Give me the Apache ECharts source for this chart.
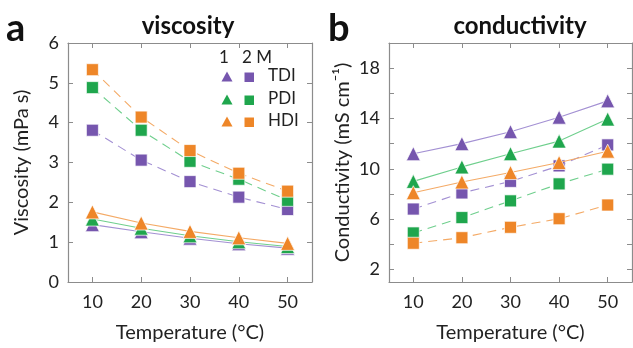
<!DOCTYPE html>
<html>
<head>
<meta charset="utf-8">
<script src="https://cdn.jsdelivr.net/npm/echarts@6/dist/echarts.min.js"></script>
<style>
  html, body { margin: 0; padding: 0; background: #fff; }
  #chart { width: 633px; height: 348px; }
</style>
</head>
<body>
<div id="chart"></div>
<script>
const temps = [10, 20, 30, 40, 50]
const xTicks = [10, 20, 30, 40, 50]

// viscosity (mPa s), 1 M = triangles, 2 M = squares
const viscTDI1 = [1.44, 1.26, 1.10, 0.96, 0.85]
const viscPDI1 = [1.58, 1.35, 1.16, 1.01, 0.89]
const viscHDI1 = [1.76, 1.48, 1.27, 1.11, 0.97]
const viscTDI2 = [3.81, 3.06, 2.52, 2.13, 1.82]
const viscPDI2 = [4.88, 3.81, 3.03, 2.58, 2.05]
const viscHDI2 = [5.33, 4.14, 3.30, 2.73, 2.28]

// conductivity (mS cm-1)
const condTDI1 = [11.2, 12.0, 12.95, 14.1, 15.4]
const condPDI1 = [9.0, 10.15, 11.2, 12.2, 13.95]
const condHDI1 = [8.1, 8.95, 9.7, 10.5, 11.4]
const condTDI2 = [6.8, 8.08, 9.0, 10.23, 11.9]
const condPDI2 = [4.9, 6.12, 7.45, 8.8, 9.97]
const condHDI2 = [4.08, 4.52, 5.35, 6.03, 7.12]

const viscTicks = [0, 1, 2, 3, 4, 5, 6]
const condTicks = [2, 4, 6, 8, 10, 12, 14, 16, 18]
const condLabels = [2, 6, 10, 14, 18]

const names = ['TDI', 'PDI', 'HDI']
const colors = ['#7656ae', '#1fa64d', '#ee8628']
const lineColors = ['#a390d3', '#6fcf8d', '#f4aa66']

const font = 'Lato, "Open Sans", sans-serif'
const frame = '#8c8c8c'

const pairs = (ys) => temps.map((t, i) => [t, ys[i]])

function mk(name, ys, k, m, g) {
  const tri = m === 1
  return {
    name: name + ' ' + m + ' M',
    type: 'line',
    xAxisIndex: g * 2,
    yAxisIndex: g * 2,
    data: pairs(ys),
    symbol: tri ? 'triangle' : 'rect',
    symbolSize: tri ? 14 : 12,
    z: tri ? 4 : 3,
    itemStyle: { color: colors[k], borderColor: 'rgba(255,255,255,0.7)', borderWidth: 1 },
    lineStyle: { color: lineColors[k], width: 1.1, type: tri ? 'solid' : [9, 6] },
    emphasis: { disabled: true },
    animation: false
  }
}

function xAxes(g) {
  const base = {
    type: 'value', gridIndex: g, min: 5, max: 55,
    axisLine: { show: true, onZero: false, lineStyle: { color: frame, width: 1.2 } },
    axisTick: { show: true, inside: true, length: 5, customValues: xTicks, lineStyle: { color: frame } },
    splitLine: { show: false }
  }
  return [
    Object.assign({}, base, {
      position: 'bottom',
      name: 'Temperature (°C)', nameLocation: 'middle', nameGap: 41,
      nameTextStyle: { fontFamily: font, fontSize: 20, color: '#222' },
      axisLabel: { customValues: xTicks, fontFamily: font, fontSize: 18, color: '#222', margin: 11 }
    }),
    Object.assign({}, base, { position: 'top', axisLabel: { show: false } })
  ]
}

function yAxes(g, cfg) {
  const base = {
    type: 'value', gridIndex: g, min: cfg.min, max: cfg.max,
    axisLine: { show: true, onZero: false, lineStyle: { color: frame, width: 1.2 } },
    axisTick: { show: true, inside: true, length: 5, customValues: cfg.ticks, lineStyle: { color: frame } },
    splitLine: { show: false }
  }
  return [
    Object.assign({}, base, {
      position: 'left',
      name: cfg.name, nameLocation: 'middle', nameGap: cfg.gap,
      nameTextStyle: { fontFamily: font, fontSize: 20, color: '#222' },
      axisLabel: { customValues: cfg.labels, fontFamily: font, fontSize: 18, color: '#222', margin: 9 }
    }),
    Object.assign({}, base, { position: 'right', axisLabel: { show: false } })
  ]
}

const viscSets = [[viscTDI1, viscPDI1, viscHDI1], [viscTDI2, viscPDI2, viscHDI2]]
const condSets = [[condTDI1, condPDI1, condHDI1], [condTDI2, condPDI2, condHDI2]]

const series = []
;[1, 0].forEach(mi => {
  // squares (2 M) first, then triangles (1 M) on top
  const m = mi + 1
  names.forEach((n, k) => series.push(mk(n, viscSets[mi][k], k, m, 0)))
  names.forEach((n, k) => series.push(mk(n, condSets[mi][k], k, m, 1)))
})

// legend drawn as graphic, three rows
const legendRows = [77, 100, 122]
const legend = [
  { type: 'text', left: 219, top: 49, style: { text: '1', font: '17px ' + font, fill: '#222' } },
  { type: 'text', left: 242, top: 49, style: { text: '2 M', font: '17px ' + font, fill: '#222' } }
]
names.forEach((n, k) => {
  const y = legendRows[k]
  legend.push({ type: 'polygon', shape: { points: [[227, y - 5.5], [232.5, y + 4.5], [221.5, y + 4.5]] }, style: { fill: colors[k] } })
  legend.push({ type: 'rect', shape: { x: 244.5, y: y - 4.5, width: 9.5, height: 9.5 }, style: { fill: colors[k] } })
  legend.push({ type: 'text', left: 268, top: y - 10, style: { text: n, font: '17px ' + font, fill: '#222' } })
})

const option = {
  animation: false,
  textStyle: { fontFamily: font },
  title: [
    { text: 'viscosity', left: 183, top: 9, textAlign: 'center', textStyle: { fontFamily: font, fontSize: 24, fontWeight: 'bold', color: '#111' } },
    { text: 'conductivity', left: 515, top: 9, textAlign: 'center', textStyle: { fontFamily: font, fontSize: 24, fontWeight: 'bold', color: '#111' } }
  ],
  graphic: [
    { type: 'text', left: 6, top: 10, style: { text: 'a', font: 'bold 38px ' + font, fill: '#111' } },
    { type: 'text', left: 328, top: 10, style: { text: 'b', font: 'bold 38px ' + font, fill: '#111' } }
  ].concat(legend),
  grid: [
    { left: 68, top: 43, width: 244, height: 244 },
    { left: 389, top: 43, width: 243, height: 244 }
  ],
  xAxis: xAxes(0).concat(xAxes(1)),
  yAxis: yAxes(0, { min: 0, max: 6, ticks: viscTicks, labels: viscTicks, name: 'Viscosity (mPa s)', gap: 36 })
    .concat(yAxes(1, { min: 1, max: 20, ticks: condTicks, labels: condLabels, name: 'Conductivity (mS cm⁻¹)', gap: 36 })),
  series: series
}

const myChart = echarts.init(document.getElementById('chart'))
myChart.setOption(option)
</script>
</body>
</html>
